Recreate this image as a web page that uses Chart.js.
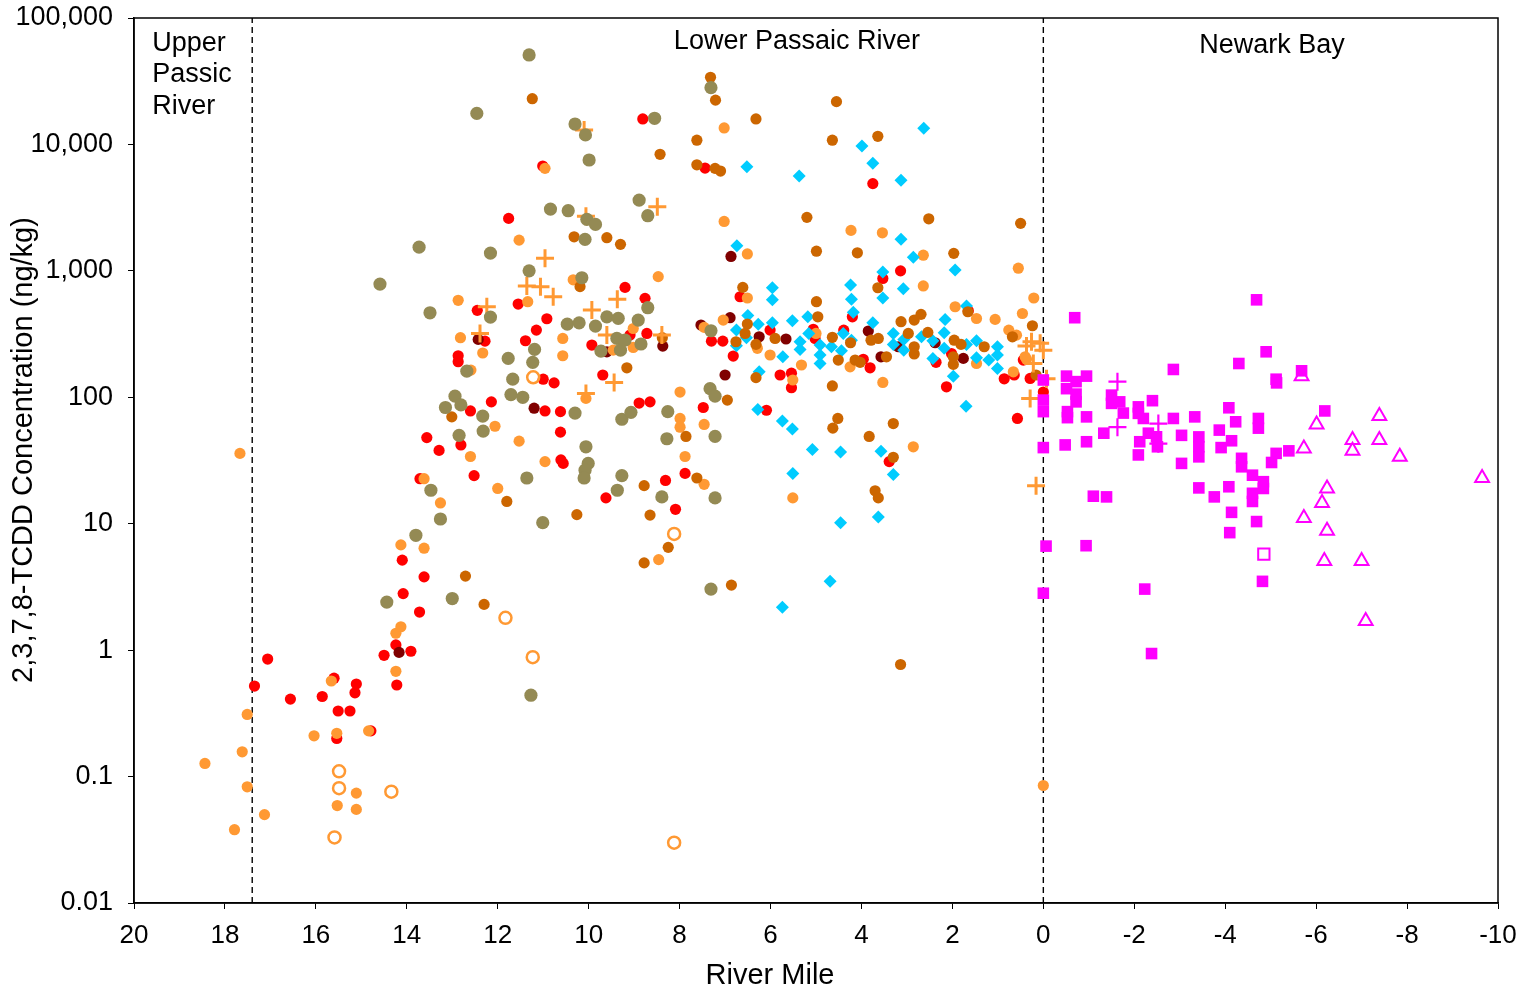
<!DOCTYPE html>
<html><head><meta charset="utf-8">
<script src="https://cdn.jsdelivr.net/npm/chart.js@4"></script>
<style>html,body{margin:0;padding:0;background:#fff}#wrap{width:1524px;height:991px;position:relative}</style>
</head><body><div id="wrap"><canvas id="c"></canvas></div>
<script>
// ---- tick labels / categories ----
const yTickValues = [0.01, 0.1, 1, 10, 100, 1000, 10000, 100000];
const yTickLabels = ['0.01', '0.1', '1', '10', '100', '1,000', '10,000', '100,000'];
const xTickValues = [20, 18, 16, 14, 12, 10, 8, 6, 4, 2, 0, -2, -4, -6, -8, -10];
const regionNames = ['Upper', 'Passic', 'River', 'Lower Passaic River', 'Newark Bay'];
const boundaryMiles = [17.4, 0];
const xTitle = 'River Mile';
const yTitle = '2,3,7,8-TCDD Concentration (ng/kg)';

// ---- series: [river mile, concentration ng/kg] ----
const orangeFilled = [[17.67,36],[17.51,0.31],[17.62,0.157],[18.44,0.127],[17.51,0.083],[17.13,0.05],[17.79,0.038],[16.04,0.21],[15.54,0.22],[15.11,0.074],[15.53,0.059],[15.11,0.055],[15.66,0.57],[14.84,0.23],[14.24,0.68],[14.24,1.36],[14.13,1.53],[14.13,6.8],[13.62,6.4],[13.62,22.7],[10.96,6470],[11.53,1750],[10.34,850],[12.87,585],[11.34,570],[12.82,296],[12.33,224],[10.57,292],[10.57,213],[12.59,164],[10.06,98],[12.06,59],[11.53,45],[12.60,34],[10.96,31],[12.00,19],[13.26,14.6],[8.47,900],[9.02,350],[9.46,236],[9.02,248],[7.46,357],[7.99,110],[7.99,68],[7.99,58],[7.46,61],[7.88,34],[7.46,20.5],[8.46,5.2],[5.51,16],[7.02,13500],[7.02,2460],[6.51,1360],[6.51,610],[7.04,408],[6.01,216],[5.51,137],[5.32,180],[6.29,244],[5.00,320],[4.25,174],[4.23,2090],[3.54,2000],[2.64,1330],[2.64,760],[0.55,1050],[0.21,610],[0.46,460],[1.94,520],[1.47,420],[1.06,413],[3.53,131],[1.47,185],[0.66,159],[0.76,340],[0.37,200],[0.59,310],[0.40,209],[2.86,40.6],[0.0,0.085]];
const redFilled = [[13.56,48],[13.71,22.7],[14.10,5.15],[13.62,3.8],[14.08,2.8],[13.72,2.0],[14.24,1.1],[14.50,0.91],[13.91,0.98],[14.22,0.53],[17.06,0.85],[17.35,0.52],[16.56,0.41],[15.86,0.43],[15.60,0.6],[15.11,0.54],[15.14,0.46],[15.51,0.33],[15.25,0.33],[15.54,0.2],[14.79,0.23],[11.76,2600],[11.01,6750],[9.20,740],[12.45,487],[11.55,546],[10.92,418],[11.15,340],[11.39,280],[12.28,278],[9.93,259],[12.87,213],[12.87,191],[11.00,139],[10.76,130],[9.69,150],[12.14,92],[12.60,78],[10.96,78],[10.62,77],[10.62,53],[12.81,42],[13.29,38],[12.52,24],[10.61,32],[10.56,30],[9.62,16],[8.76,606],[9.09,311],[8.72,320],[8.89,90],[8.65,92],[7.48,83],[8.81,15900],[7.44,6500],[6.67,624],[7.30,278],[7.05,278],[6.01,340],[6.82,212],[5.79,150],[5.54,155],[5.54,119],[6.09,79],[8.31,22],[7.88,25],[8.09,13],[3.75,4900],[3.14,1000],[3.53,870],[4.20,433],[1.65,483],[5.06,345],[5.02,292],[4.39,340],[3.96,200],[3.81,171],[2.36,189],[2.02,222],[2.13,121],[0.86,140],[0.64,150],[0.29,141],[0.44,197],[0.57,68],[0.0,110],[3.39,31]];
const darkRedFilled = [[14.17,0.96],[12.43,287],[11.20,82],[8.37,254],[7.53,373],[6.87,1300],[6.89,426],[6.25,301],[5.66,289],[3.85,334],[3.57,209],[2.38,270],[1.76,203],[9.60,229],[3.19,251],[7.00,150]];
const darkOrangeFilled = [[11.24,23000],[10.32,1860],[9.60,1830],[9.30,1620],[10.19,750],[13.01,70],[9.16,171],[8.38,296],[11.80,15],[10.26,11.8],[12.71,3.85],[12.30,2.3],[7.32,34000],[7.21,22400],[6.32,15900],[7.62,10800],[8.43,8350],[7.62,6900],[7.22,6470],[7.10,6160],[5.20,2650],[4.99,1430],[6.61,740],[4.99,570],[6.51,380],[6.56,320],[6.32,262],[5.90,292],[6.76,275],[6.32,143],[6.95,95],[7.86,49],[7.62,23],[8.78,20],[8.65,11.7],[8.25,6.5],[8.78,4.9],[6.86,3.27],[4.55,21800],[4.64,10800],[3.64,11600],[2.52,2580],[4.09,1390],[1.97,1375],[0.50,2375],[3.64,735],[4.96,433],[0.24,368],[2.69,453],[2.84,408],[3.13,396],[3.63,292],[3.79,283],[4.64,298],[4.24,270],[4.51,197],[4.14,197],[4.03,189],[3.45,209],[2.97,320],[2.84,251],[2.84,220],[2.54,326],[1.96,283],[1.81,262],[1.98,209],[1.98,182],[1.30,251],[0.68,301],[0.16,150],[4.64,123],[4.52,68],[4.63,57],[3.30,62],[3.83,49],[3.30,33.5],[3.70,18.2],[3.63,16],[3.14,0.77],[1.66,475]];
const oliveFilled = [[11.31,51000],[12.46,17600],[10.30,14500],[10.07,11900],[9.99,7530],[10.84,3080],[10.45,2990],[10.04,2555],[9.85,2330],[10.08,1775],[13.73,1540],[12.16,1383],[11.31,1000],[10.15,882],[14.59,786],[12.16,431],[13.49,466],[10.47,379],[10.21,388],[9.85,366],[9.60,433],[9.35,421],[9.38,292],[9.30,236],[9.73,232],[9.20,283],[8.91,408],[8.85,264],[8.70,511],[12.68,161],[11.19,239],[11.77,203],[11.23,189],[11.67,139],[11.71,105],[11.45,100],[12.94,102],[13.15,83],[12.81,87],[12.33,71],[12.32,54],[10.30,75],[12.85,50],[10.06,40.6],[9.27,67],[10.01,30],[10.08,26.5],[10.10,23],[9.27,24],[9.37,18.4],[13.47,18.4],[11.36,23],[13.26,10.9],[11.01,10.2],[13.80,8.1],[14.44,2.4],[13.00,2.56],[11.27,0.44],[8.26,77],[9.07,76],[8.89,3630],[8.70,2730],[8.55,16100],[7.31,28100],[7.31,336],[7.33,117],[7.22,102],[8.28,47],[7.22,49],[8.39,16.3],[7.22,16],[7.31,3.04]];
const orangeOpen = [[15.49,0.11],[15.49,0.081],[14.34,0.076],[15.59,0.033],[11.83,1.8],[11.23,0.88],[11.22,144],[8.12,8.3],[8.12,0.03]];
const orangePlus = [[10.10,13000],[10.06,2700],[10.96,1260],[11.36,758],[11.06,749],[10.78,624],[12.24,520],[9.37,595],[9.93,490],[12.39,320],[9.60,311],[9.44,131],[10.06,107],[8.49,3215],[8.39,311],[0.37,254],[0.07,267],[0.22,185],[0.29,98],[0.0,236],[0.26,275],[-0.07,140],[0.16,20]];
const cyanDiamond = [[6.52,6660],[5.37,5620],[6.74,1580],[5.96,735],[5.96,591],[6.50,444],[6.27,379],[5.96,388],[5.52,403],[5.18,433],[6.75,340],[6.53,296],[5.16,320],[5.35,275],[5.35,239],[5.73,209],[6.75,256],[6.25,159],[6.28,80],[5.74,65],[5.52,56],[5.08,38.7],[5.51,25],[5.74,2.18],[2.63,13400],[3.99,9700],[3.75,7100],[3.13,5200],[3.13,1775],[2.86,1280],[1.94,1015],[3.53,978],[4.24,772],[4.22,595],[3.08,722],[3.53,609],[4.18,470],[1.69,527],[2.16,413],[3.75,388],[4.91,259],[4.66,251],[4.91,216],[4.91,185],[4.40,320],[4.22,283],[4.44,233],[3.30,320],[3.30,262],[3.07,287],[3.07,236],[2.68,301],[2.43,280],[2.43,203],[2.18,324],[2.18,244],[1.69,262],[1.98,147],[1.47,280],[1.47,205],[1.20,197],[1.01,251],[1.01,216],[1.01,169],[1.70,85],[4.46,37],[3.57,37.5],[3.30,24.5],[4.46,10.2],[3.63,11.3],[4.69,3.5]];
const magentaSquare = [[0,40],[-0.06,6.65],[0,2.82],[0,137],[0,95],[0,77],[-0.69,426],[-0.51,147],[-0.95,147],[-0.51,117],[-0.72,133],[-0.72,106],[-0.72,92],[-0.53,77],[-0.53,69],[-0.95,70],[-0.48,42],[-0.95,44.5],[-1.33,52],[-1.50,104],[-1.50,89.5],[-1.68,92],[-1.76,75],[-2.09,84],[-2.09,74.6],[-2.20,68],[-2.40,94],[-2.12,44.5],[-2.09,35],[-2.31,52],[-2.49,48.7],[-2.51,40.6],[-2.86,166],[-2.86,68],[-3.04,50],[-3.04,30],[-3.33,70],[-3.42,48.6],[-3.42,40.6],[-3.42,33.8],[-3.42,19.2],[-3.76,16.3],[-3.87,55],[-3.91,40],[-4.14,45.3],[-4.23,64],[-4.08,82.6],[-4.30,185],[-4.36,32.9],[-4.36,28.2],[-4.08,19.6],[-4.14,12.3],[-4.10,8.5],[-4.69,590],[-4.73,68],[-4.73,57],[-4.60,24.2],[-4.60,17.4],[-4.60,15],[-4.69,10.4],[-0.94,6.7],[-1.10,16.5],[-1.39,16.3],[-2.23,3.04],[-2.38,0.94],[-4.82,3.5],[-4.90,229],[-5.12,139],[-5.13,130],[-5.68,162],[-6.19,78],[-5.12,36],[-5.40,37.7],[-5.02,30.5],[-4.84,21.5],[-4.84,19]];
const magentaOpenSquare = [[-4.85,5.75]];
const magentaPlus = [[-1.63,133],[-1.63,58],[-2.53,62],[-2.53,43]];
const magentaTriangle = [[-5.68,147],[-6.01,61],[-7.39,71],[-5.73,39.4],[-6.80,46],[-6.80,37.7],[-7.39,46],[-7.84,33.8],[-9.65,23],[-6.24,19],[-6.13,14.6],[-5.73,11.1],[-6.24,8.8],[-6.18,5.06],[-7.00,5.06],[-7.09,1.7]];

// ---- styling ----
const FONT = "'Liberation Sans', Arial, sans-serif";
const pts = arr => arr.map(p => ({x: p[0], y: p[1]}));
function scatter(label, arr, style) {
  return Object.assign({type: 'scatter', label, data: pts(arr), borderWidth: 0}, style);
}
const datasets = [
  scatter('Newark Bay triangles', magentaTriangle, {pointStyle: 'triangle', pointRadius: 8, borderWidth: 2, borderColor: '#FF00FF', backgroundColor: 'rgba(0,0,0,0)'}),
  scatter('Newark Bay plus', magentaPlus, {pointStyle: 'cross', pointRadius: 9, borderWidth: 2.2, borderColor: '#FF00FF', backgroundColor: '#FF00FF'}),
  scatter('Newark Bay open square', magentaOpenSquare, {pointStyle: 'rect', pointRadius: 8, borderWidth: 2, borderColor: '#FF00FF', backgroundColor: 'rgba(0,0,0,0)'}),
  scatter('Newark Bay squares', magentaSquare, {pointStyle: 'rect', pointRadius: 8.2, borderWidth: 0, backgroundColor: '#FF00FF'}),
  scatter('Olive', oliveFilled, {pointStyle: 'circle', pointRadius: 6.6, backgroundColor: '#948A54'}),
  scatter('Orange plus', orangePlus, {pointStyle: 'cross', pointRadius: 9, borderWidth: 3, borderColor: '#FF9933', backgroundColor: '#FF9933'}),
  scatter('Dark orange', darkOrangeFilled, {pointStyle: 'circle', pointRadius: 5.6, backgroundColor: '#CC6600'}),
  scatter('Cyan', cyanDiamond, {pointStyle: 'rectRot', pointRadius: 6.5, backgroundColor: '#00CCFF'}),
  scatter('Orange open', orangeOpen, {pointStyle: 'circle', pointRadius: 6, borderWidth: 2.5, borderColor: '#FF9933', backgroundColor: 'rgba(0,0,0,0)'}),
  scatter('Orange', orangeFilled, {pointStyle: 'circle', pointRadius: 5.6, backgroundColor: '#FF9933'}),
  scatter('Dark red', darkRedFilled, {pointStyle: 'circle', pointRadius: 5.6, backgroundColor: '#800000'}),
  scatter('Red', redFilled, {pointStyle: 'circle', pointRadius: 5.6, backgroundColor: '#FF0000'}),
];
boundaryMiles.forEach(m => datasets.push({
  type: 'line', label: 'boundary ' + m,
  data: [{x: m, y: yTickValues[0]}, {x: m, y: yTickValues[yTickValues.length - 1]}],
  borderColor: '#000', borderWidth: 1.4, borderDash: [6, 4], pointRadius: 0, fill: false
}));

const framePlugin = {
  id: 'frame',
  afterDraw(chart) {
    const {ctx, chartArea: a} = chart;
    ctx.save();
    ctx.strokeStyle = '#000'; ctx.lineWidth = 1.5;
    ctx.strokeRect(a.left, a.top, a.right - a.left, a.bottom - a.top);
    // axis titles
    ctx.fillStyle = '#000';
    ctx.font = '29px ' + FONT;
    ctx.textAlign = 'center';
    ctx.textBaseline = 'middle';
    ctx.fillText(xTitle, 770, 976);
    ctx.translate(24, 450);
    ctx.rotate(-Math.PI / 2);
    ctx.fillText(yTitle, 0, 0);
    ctx.restore();
  }
};
const regionPlugin = {
  id: 'regions',
  afterDatasetsDraw(chart) {
    const {ctx, scales: {x, y}} = chart;
    ctx.save();
    ctx.fillStyle = '#000';
    ctx.font = '27px ' + FONT;
    ctx.textBaseline = 'middle';
    ctx.textAlign = 'left';
    const ux = x.getPixelForValue(19.6);
    ctx.fillText(regionNames[0], ux, y.getPixelForValue(62300));
    ctx.fillText(regionNames[1], ux, y.getPixelForValue(35400));
    ctx.fillText(regionNames[2], ux, y.getPixelForValue(20100));
    ctx.textAlign = 'center';
    ctx.fillText(regionNames[3], x.getPixelForValue(5.42), y.getPixelForValue(64600));
    ctx.fillText(regionNames[4], x.getPixelForValue(-5.03), y.getPixelForValue(61100));
    ctx.restore();
  }
};

new Chart(document.getElementById('c'), {
  data: {datasets},
  plugins: [framePlugin, regionPlugin],
  options: {
    responsive: true, maintainAspectRatio: false, animation: false,
    layout: {padding: {top: 18, right: 26, left: 0, bottom: 0}},
    plugins: {legend: {display: false}, tooltip: {enabled: false}},
    scales: {
      x: {
        type: 'linear', reverse: true, min: -10, max: 20,
        afterBuildTicks: s => { s.ticks = xTickValues.map(v => ({value: v})); },
        afterFit: s => { s.height = 88; s.paddingLeft = 0; s.paddingRight = 0; },
        ticks: {color: '#000', font: {family: FONT, size: 26}, padding: 11, maxRotation: 0, autoSkip: false,
                callback: v => String(v)},
        grid: {display: true, drawOnChartArea: false, drawTicks: true, tickLength: 6, color: '#000', tickColor: '#000'},
        border: {display: true, color: '#000', width: 1.5},
        title: {display: false}
      },
      y: {
        type: 'logarithmic', min: 0.01, max: 100000,
        afterBuildTicks: s => { s.ticks = yTickValues.map(v => ({value: v})); },
        afterFit: s => { s.width = 134; s.paddingTop = 0; s.paddingBottom = 0; },
        ticks: {color: '#000', font: {family: FONT, size: 27}, padding: 15, autoSkip: false,
                callback: v => { const i = yTickValues.findIndex(t => Math.abs(Math.log10(t) - Math.log10(v)) < 1e-6); return i >= 0 ? yTickLabels[i] : ''; }},
        grid: {display: true, drawOnChartArea: false, drawTicks: true, tickLength: 6, color: '#000', tickColor: '#000'},
        border: {display: true, color: '#000', width: 1.5},
        title: {display: false}
      }
    }
  }
});
</script>
</body></html>
